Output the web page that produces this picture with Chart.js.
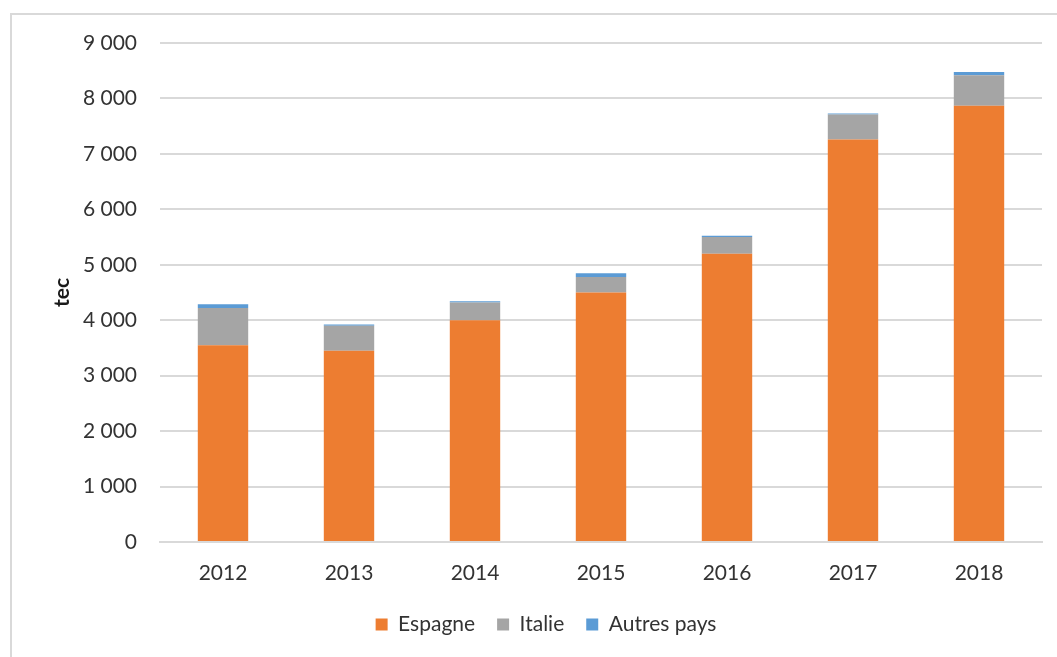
<!DOCTYPE html>
<html lang="fr">
<head>
<meta charset="utf-8">
<title>tec</title>
<script src="https://cdn.jsdelivr.net/npm/chart.js@4.4.1/dist/chart.umd.min.js"></script>
<style>
    html, body {
        margin: 0;
        padding: 0;
        background: #ffffff;
    }
    #cadre {
        position: absolute;
        left: 10px;
        top: 13px;
        width: 1060px;
        height: 660px;
        border: 2px solid #d9d9d9;
        box-sizing: border-box;
    }
    #zone {
        position: absolute;
        left: 0;
        top: 0;
        width: 1057px;
        height: 657px;
    }
</style>
</head>
<body>
<div id="cadre"></div>
<div id="zone"><canvas id="graphique"></canvas></div>
<script>
/* -----------------------------
   DONNEES
----------------------------- */
const annees = ["2012", "2013", "2014", "2015", "2016", "2017", "2018"];
const espagne = [3550, 3450, 4000, 4500, 5200, 7260, 7870];
const italie = [670, 450, 320, 280, 300, 450, 550];
const autresPays = [70, 25, 20, 65, 25, 20, 55];
const ticksY = [0, 1000, 2000, 3000, 4000, 5000, 6000, 7000, 8000, 9000];

const couleurTexte = "#333333";
const police = "Lato, 'Open Sans', sans-serif";

function formatMilliers(valeur) {
    return String(valeur).replace(/\B(?=(\d{3})+(?!\d))/g, " ");
}

const ctx = document.getElementById("graphique");

new Chart(ctx, {
    type: "bar",
    data: {
        labels: annees,
        datasets: [
            { label: "Espagne", data: espagne, backgroundColor: "#ED7D31" },
            { label: "Italie", data: italie, backgroundColor: "#A5A5A5" },
            { label: "Autres pays", data: autresPays, backgroundColor: "#5B9BD5" }
        ]
    },
    options: {
        responsive: true,
        maintainAspectRatio: false,
        animation: false,
        layout: {
            padding: { left: 50, right: 15, top: 43, bottom: 12 }
        },
        datasets: {
            bar: {
                categoryPercentage: 1,
                barPercentage: 0.4,
                borderWidth: 0
            }
        },
        plugins: {
            legend: {
                position: "bottom",
                labels: {
                    color: couleurTexte,
                    font: { family: police, size: 21 },
                    boxWidth: 12,
                    boxHeight: 12,
                    padding: 22
                }
            },
            tooltip: { enabled: false }
        },
        scales: {
            x: {
                stacked: true,
                grid: { display: false },
                border: { color: "#d9d9d9", width: 2 },
                ticks: {
                    color: couleurTexte,
                    font: { family: police, size: 21 },
                    padding: 11
                },
                afterFit: (scale) => { scale.height = 50; }
            },
            y: {
                stacked: true,
                min: 0,
                max: 9000,
                afterBuildTicks: (scale) => {
                    scale.ticks = ticksY.map(v => ({ value: v }));
                },
                grid: {
                    color: "#d9d9d9",
                    lineWidth: 2,
                    drawTicks: false
                },
                border: { display: false },
                ticks: {
                    color: couleurTexte,
                    font: { family: police, size: 21 },
                    padding: 23,
                    callback: (valeur) => formatMilliers(valeur)
                },
                title: {
                    display: true,
                    text: "tec",
                    color: "#1a1a1a",
                    font: { family: police, size: 21, weight: "bold" },
                    padding: 0
                },
                afterFit: (scale) => { scale.width = 110; }
            }
        }
    }
});
</script>
</body>
</html>
